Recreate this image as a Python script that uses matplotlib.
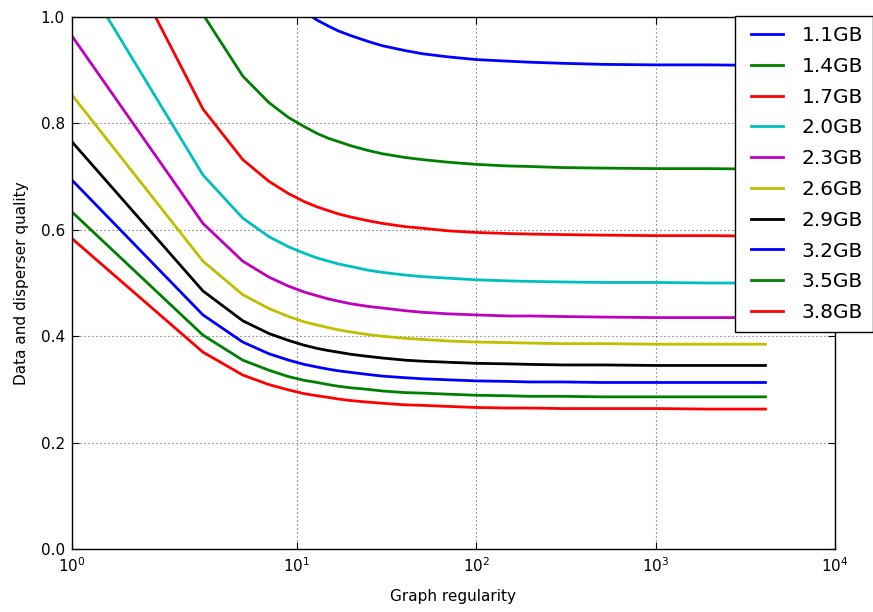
import matplotlib
matplotlib.use("Agg")
import matplotlib.pyplot as plt
from matplotlib.ticker import NullLocator

# Graph regularity (x) sample points
x = [1, 3, 5, 7, 9, 11, 13, 15, 17, 20, 25, 30, 40, 50, 70, 100, 150, 200, 300, 500, 1000, 2000, 4096]

labels = ["1.1GB", "1.4GB", "1.7GB", "2.0GB", "2.3GB", "2.6GB", "2.9GB", "3.2GB", "3.5GB", "3.8GB"]
colors = ["b", "g", "r", "c", "m", "y", "k", "b", "g", "r"]

q_1_1 = [2.018, 1.279, 1.131, 1.068, 1.032, 1.010, 0.994, 0.983, 0.974, 0.965, 0.954, 0.946, 0.937,
         0.931, 0.925, 0.920, 0.917, 0.915, 0.913, 0.911, 0.910, 0.910, 0.909]
q_1_4 = [1.586, 1.005, 0.889, 0.839, 0.811, 0.794, 0.781, 0.772, 0.766, 0.758, 0.749, 0.743, 0.736,
         0.732, 0.727, 0.723, 0.720, 0.719, 0.717, 0.716, 0.715, 0.715, 0.714]
q_1_7 = [1.306, 0.827, 0.732, 0.691, 0.668, 0.653, 0.643, 0.636, 0.630, 0.624, 0.617, 0.612, 0.606,
         0.603, 0.598, 0.595, 0.593, 0.592, 0.591, 0.590, 0.589, 0.589, 0.588]
q_2_0 = [1.110, 0.703, 0.622, 0.587, 0.568, 0.556, 0.547, 0.541, 0.536, 0.531, 0.524, 0.520, 0.515,
         0.512, 0.509, 0.506, 0.504, 0.503, 0.502, 0.501, 0.501, 0.500, 0.500]
q_2_3 = [0.965, 0.612, 0.541, 0.511, 0.494, 0.483, 0.476, 0.470, 0.466, 0.461, 0.456, 0.453, 0.448,
         0.445, 0.442, 0.440, 0.438, 0.438, 0.437, 0.436, 0.435, 0.435, 0.435]
q_2_6 = [0.854, 0.541, 0.478, 0.452, 0.437, 0.427, 0.421, 0.416, 0.412, 0.408, 0.403, 0.400, 0.396,
         0.394, 0.391, 0.389, 0.388, 0.387, 0.386, 0.386, 0.385, 0.385, 0.385]
q_2_9 = [0.766, 0.485, 0.429, 0.405, 0.392, 0.383, 0.377, 0.373, 0.370, 0.366, 0.362, 0.359, 0.355,
         0.353, 0.351, 0.349, 0.348, 0.347, 0.346, 0.346, 0.345, 0.345, 0.345]
q_3_2 = [0.694, 0.440, 0.389, 0.367, 0.355, 0.347, 0.342, 0.338, 0.335, 0.332, 0.328, 0.325, 0.322,
         0.320, 0.318, 0.316, 0.315, 0.314, 0.314, 0.313, 0.313, 0.313, 0.313]
q_3_5 = [0.634, 0.402, 0.355, 0.336, 0.324, 0.317, 0.313, 0.309, 0.306, 0.303, 0.300, 0.297, 0.294,
         0.293, 0.291, 0.289, 0.288, 0.287, 0.287, 0.286, 0.286, 0.286, 0.286]
q_3_8 = [0.584, 0.370, 0.327, 0.309, 0.299, 0.292, 0.288, 0.285, 0.282, 0.279, 0.276, 0.274, 0.271,
         0.270, 0.268, 0.266, 0.265, 0.265, 0.264, 0.264, 0.264, 0.263, 0.263]

series = [q_1_1, q_1_4, q_1_7, q_2_0, q_2_3, q_2_6, q_2_9, q_3_2, q_3_5, q_3_8]

xticks = [1, 10, 100, 1000, 10000]
xticklabels = [r"$10^{0}$", r"$10^{1}$", r"$10^{2}$", r"$10^{3}$", r"$10^{4}$"]
yticks = [0.0, 0.2, 0.4, 0.6, 0.8, 1.0]
yticklabels = ["0.0", "0.2", "0.4", "0.6", "0.8", "1.0"]

plt.rcParams["font.family"] = ["DejaVu Sans"]
plt.rcParams["mathtext.fontset"] = "dejavusans"

fig = plt.figure(figsize=(8.73, 6.12), dpi=100, facecolor="white")
ax = fig.add_axes([71.7 / 873, 1 - 549 / 612, (835 - 71.7) / 873, (549 - 17) / 612])

for ys, lab, col in zip(series, labels, colors):
    ax.plot(x, ys, color=col, lw=2.0, label=lab)

ax.set_xscale("symlog", linthresh=2, linscale=1)
ax.set_xlim(1, 10000)
ax.set_ylim(0, 1.0)
ax.set_xticks(xticks)
ax.set_xticklabels(xticklabels)
ax.xaxis.set_minor_locator(NullLocator())
ax.set_yticks(yticks)
ax.set_yticklabels(yticklabels)

ax.grid(True, color="0.35", linestyle=(0, (1, 2.6)), linewidth=0.8)
ax.tick_params(direction="in", top=True, right=True, length=5, width=0.8, labelsize=11, pad=5)
for s in ax.spines.values():
    s.set_linewidth(1.0)

ax.set_xlabel("Graph regularity", fontsize=11, labelpad=10)
ax.set_ylabel("Data and disperser quality", fontsize=11, labelpad=8)

leg = fig.legend(loc="upper left", bbox_to_anchor=(735 / 873, 1 - 16.0 / 612),
                 bbox_transform=fig.transFigure, borderaxespad=0, fontsize=14.5,
                 numpoints=2, handlelength=2.2, handletextpad=0.62, borderpad=0.5,
                 labelspacing=0.585, fancybox=False, shadow=False, framealpha=1)
leg.get_frame().set_edgecolor("black")
leg.get_frame().set_linewidth(1.0)

fig.savefig("out.png", dpi=100, facecolor="white")
